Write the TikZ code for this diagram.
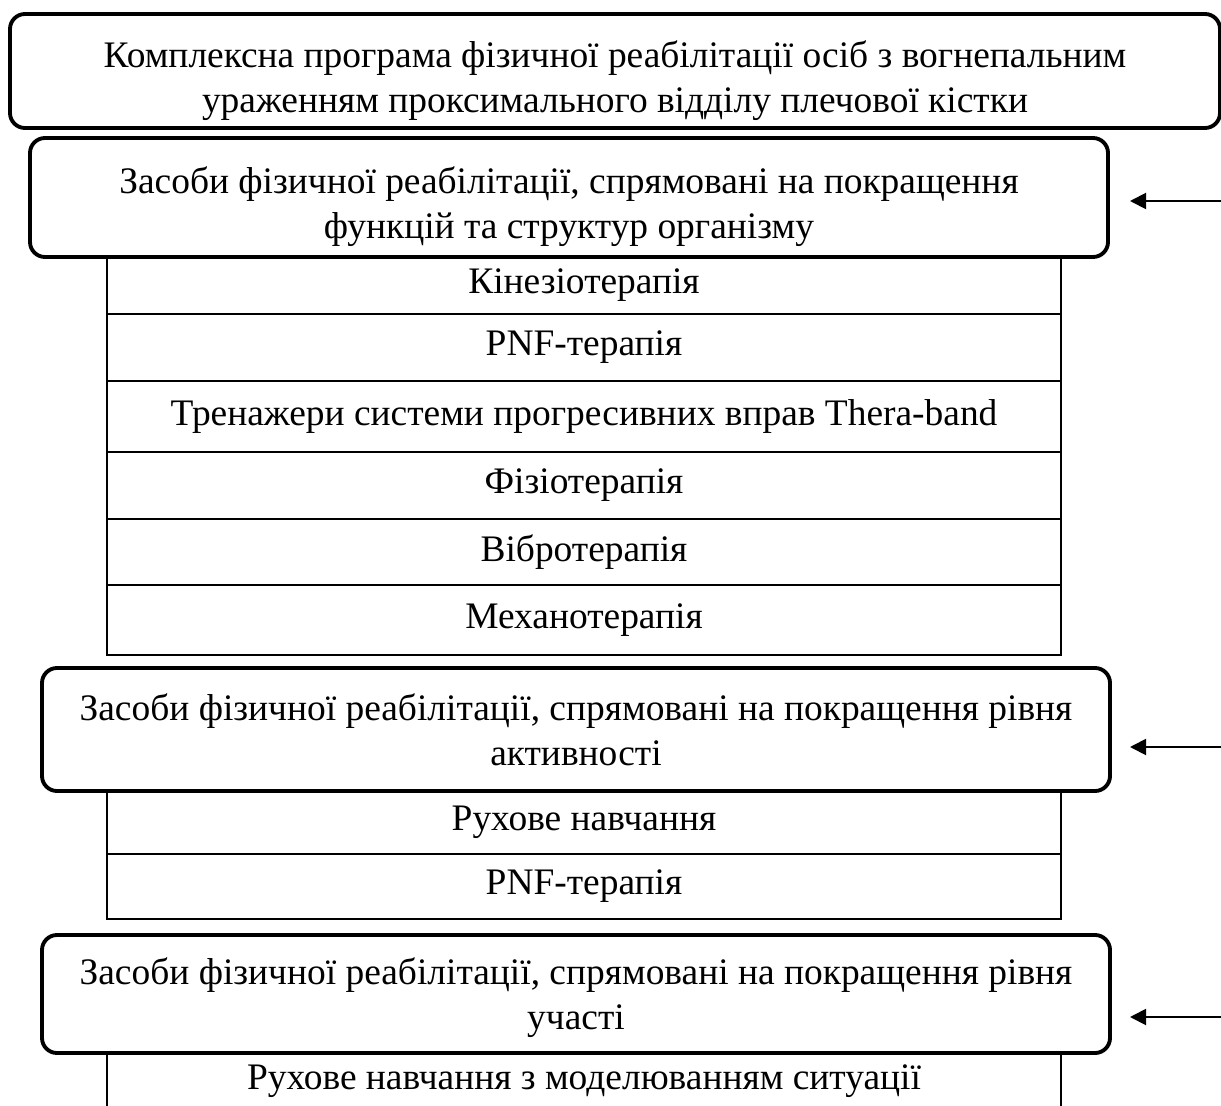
\documentclass[tikz,border=0pt]{standalone}
\usepackage{fontspec}
\setmainfont{Liberation Serif}
\usetikzlibrary{positioning, arrows.meta}

\begin{document}
\begin{tikzpicture}[
    font=\fontsize{21.3}{25.6}\selectfont,
    group/.style={draw, line width=2.2pt, rounded corners=0.3cm,
      inner sep=0pt, outer sep=0pt, minimum width=21.36cm},
    gtext/.style={align=center, inner sep=0pt},
    item/.style={draw, line width=1.1pt, inner sep=0pt, outer sep=0pt,
      minimum width=19.08cm},
    feed/.style={line width=1.1pt, -{Triangle[length=0.32cm, width=0.32cm]}}]

  \useasboundingbox (0,0) rectangle (24.42,-22.12);

  % programme
  \node[group, minimum width=24.2cm, minimum height=2.28cm] at (12.3,-1.42) (prog) {};
  \node[gtext] at ([yshift=-0.2cm]prog.center) (prog-t)
    {Комплексна програма фізичної реабілітації осіб з вогнепальним\\
     ураженням проксимального відділу плечової кістки};

  % functions and structures
  \node[group, minimum width=21.56cm, minimum height=2.38cm] at (11.38,-3.95) (g-func) {};
  \node[gtext] at ([yshift=-0.18cm]g-func.center) (g-func-t)
    {Засоби фізичної реабілітації, спрямовані на покращення\\
     функцій та структур організму};
  \node[item, anchor=north, minimum height=1.14cm] at (11.68,-5.14) (f1) {Кінезіотерапія};
  \node[item, below=0 of f1, minimum height=1.34cm] (f2) {PNF-терапія};
  \node[item, below=0 of f2, minimum height=1.42cm] (f3) {Тренажери системи прогресивних вправ Thera-band};
  \node[item, below=0 of f3, minimum height=1.34cm] (f4) {Фізіотерапія};
  \node[item, below=0 of f4, minimum height=1.32cm] (f5) {Вібротерапія};
  \node[item, below=0 of f5, minimum height=1.4cm] (f6) {Механотерапія};

  % activity
  \node[group, minimum height=2.46cm] at (11.52,-14.59) (g-act) {};
  \node[gtext] at (g-act.center) (g-act-t)
    {Засоби фізичної реабілітації, спрямовані на покращення рівня\\
     активності};
  \node[item, anchor=north, minimum height=1.28cm] at (11.68,-15.8) (a1) {Рухове навчання};
  \node[item, below=0 of a1, minimum height=1.3cm] (a2) {PNF-терапія};

  % participation
  \node[group, minimum height=2.36cm] at (11.52,-19.88) (g-part) {};
  \node[gtext] at ([yshift=-0.08cm]g-part.center) (g-part-t)
    {Засоби фізичної реабілітації, спрямовані на покращення рівня\\
     участі};
  \node[inner sep=0pt, outer sep=0pt, minimum width=19.08cm, minimum height=1.12cm,
    anchor=north] at (11.68,-21.06) (p1) {Рухове навчання з моделюванням ситуації};
  \draw[line width=1.1pt] (p1.south west) -- (p1.north west) -- (p1.north east) -- (p1.south east);

  % inputs
  \coordinate (in-func) at (24.42,-4.02);
  \coordinate (in-act) at (24.42,-14.94);
  \coordinate (in-part) at (24.42,-20.34);
  \draw[feed] (in-func) -- ([xshift=0.44cm]g-func.east |- in-func);
  \draw[feed] (in-act) -- ([xshift=0.4cm]g-act.east |- in-act);
  \draw[feed] (in-part) -- ([xshift=0.4cm]g-part.east |- in-part);
\end{tikzpicture}
\end{document}
